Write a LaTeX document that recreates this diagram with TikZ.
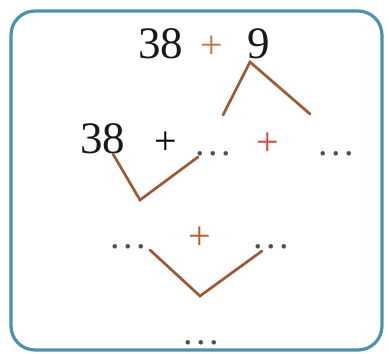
\documentclass[tikz,border=0pt]{standalone}
\usepackage{fontspec}
\setmainfont{Liberation Serif}
\definecolor{boxc}{HTML}{4A93AA}
\definecolor{legc}{HTML}{9C5A36}
\definecolor{plusor}{HTML}{C8784E}
\definecolor{plusred}{HTML}{D8483E}
\definecolor{plusbr}{HTML}{B8602E}
\definecolor{dotc}{HTML}{505050}
\newcommand{\mydots}{.\kern3.5pt.\kern3.5pt.}
\tikzset{
  num/.style={inner sep=0pt, anchor=base west, font=\fontsize{45}{45}\selectfont, text=black!90},
  pl/.style={inner sep=0pt, anchor=center, font=\fontsize{40}{40}\selectfont},
  dd/.style={inner sep=0pt, anchor=base west, font=\fontsize{38}{38}\selectfont, text=dotc},
  leg/.style={draw=legc, line width=2.7pt, line cap=round, line join=miter},
  frame/.style={draw=boxc, line width=3.2pt, rounded corners=24pt}
}
\begin{document}
\begin{tikzpicture}[x=1pt,y=-1pt]
\useasboundingbox (0,0) rectangle (389,354);
\fill[white] (0,0) rectangle (389,354);
\draw[frame] (11,11) rectangle (382,350);
% top row
\node[num] (a38) at (138,58) {38};
\node[pl, text=plusor] (p1) at (212,47) {+};
\node[num] (a9) at (247,58) {9};
% second row
\node[num] (b38) at (80,153) {38};
\node[pl, text=black] (p2) at (166,143) {+};
\node[dd] (b1) at (195,155) {\mydots};
\node[pl, text=plusred] (p3) at (268,144) {+};
\node[dd] (b2) at (318,155) {\mydots};
% third row
\node[dd] (c1) at (110,248) {\mydots};
\node[pl, text=plusbr] (p4) at (200,238) {+};
\node[dd] (c2) at (253,248) {\mydots};
% bottom
\node[dd] (d1) at (183,344) {\mydots};
% legs
\coordinate (t) at (250,62);
\coordinate (tl) at (223,115);
\coordinate (tr) at (310,114);
\draw[leg] (tl) -- (t) -- (tr);
\coordinate (m0) at (113,154);
\coordinate (mv) at (140,200);
\coordinate (m1) at (198,157);
\draw[leg] (m0) -- (mv) -- (m1);
\coordinate (l0) at (150,250);
\coordinate (lv) at (200,296);
\coordinate (l1) at (262,251);
\draw[leg] (l0) -- (lv) -- (l1);
\end{tikzpicture}
\end{document}
